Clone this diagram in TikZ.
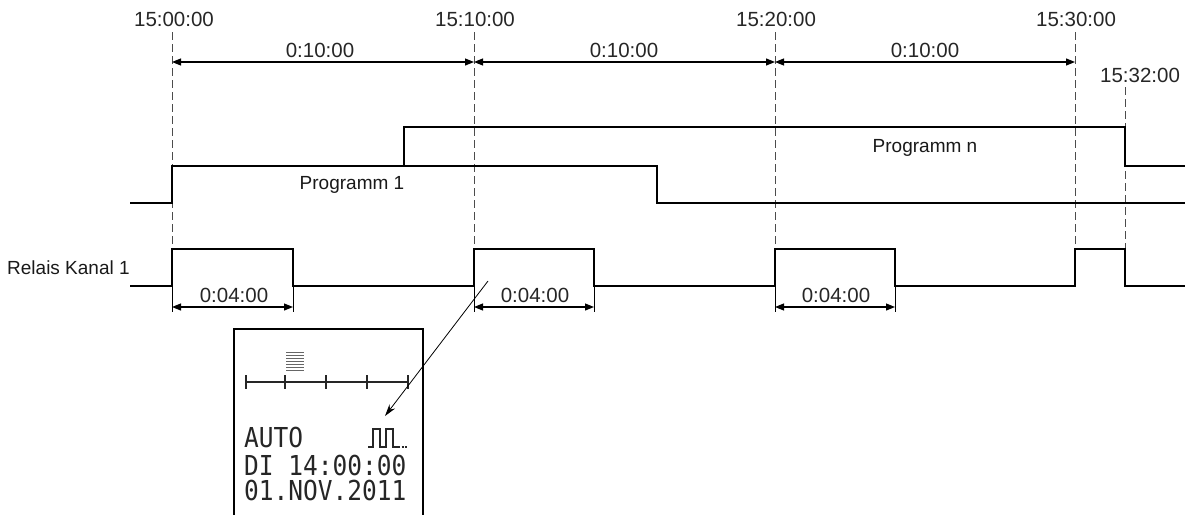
\documentclass[tikz,border=0pt]{standalone}
\usepackage{fontspec}
\usepackage{graphicx}
\setmainfont{Liberation Sans}
\newfontfamily\lcdfont{DejaVu Sans Mono}
\usetikzlibrary{arrows.meta}
\begin{document}
\begin{tikzpicture}[x=1pt,y=-1pt,
  sig/.style={line width=2.9pt, line join=miter},
  dimarrow/.style={line width=1.1pt,{Triangle[length=9pt,width=7pt]}-{Triangle[length=9pt,width=7pt]}},
  extline/.style={line width=0.8pt},
  dashl/.style={line width=1pt, dash pattern=on 8pt off 4pt, draw=black!70},
  tlabel/.style={font=\fontsize{20.5}{24}\selectfont, text=black!85, inner sep=0pt, anchor=base},
  lab/.style={font=\fontsize{19}{22}\selectfont, text=black!90, inner sep=0pt, anchor=base},
  lcd/.style={font=\lcdfont\fontsize{24.5}{26}\selectfont, text=black!85, inner sep=0pt, anchor=base west}]

\useasboundingbox (0,0) rectangle (1185,514);

% time labels
\node[tlabel] (t1) at (174,27) {15:00:00};
\node[tlabel] (t2) at (475,27) {15:10:00};
\node[tlabel] (t3) at (776,27) {15:20:00};
\node[tlabel] (t4) at (1076,27) {15:30:00};
\node[tlabel] (t5) at (1140,82) {15:32:00};

% dashed time markers
\coordinate (d1t) at (172,32);  \coordinate (d1b) at (172,249);
\coordinate (d2t) at (474,32);  \coordinate (d2b) at (474,249);
\coordinate (d3t) at (775,32);  \coordinate (d3b) at (775,249);
\coordinate (d4t) at (1075,32); \coordinate (d4b) at (1075,249);
\coordinate (d5t) at (1125,87); \coordinate (d5b) at (1125,249);
\draw[dashl] (d1t) -- (d1b);
\draw[dashl] (d2t) -- (d2b);
\draw[dashl] (d3t) -- (d3b);
\draw[dashl] (d4t) -- (d4b);
\draw[dashl] (d5t) -- (d5b);

% 10 minute intervals
\coordinate (a1) at (172,62); \coordinate (a2) at (474,62);
\coordinate (a3) at (775,62); \coordinate (a4) at (1075,62);
\draw[dimarrow] (a1) -- (a2);
\draw[dimarrow] (a2) -- (a3);
\draw[dimarrow] (a3) -- (a4);
\node[tlabel] (i1) at (320,57) {0:10:00};
\node[tlabel] (i2) at (624,57) {0:10:00};
\node[tlabel] (i3) at (925,57) {0:10:00};

% program signals
\draw[sig] (130,203) -- (172,203) -- (172,166) -- (657,166) -- (657,203) -- (1185,203);
\draw[sig] (404,166) -- (404,127) -- (1125,127) -- (1125,166) -- (1185,166);
\node[lab] (pg1) at (352,189) {Programm 1};
\node[lab] (pgn) at (925,152) {Programm n};

% relay
\node[lab, anchor=base west] (rk) at (7,274) {Relais Kanal 1};
\draw[sig] (130,286) -- (172,286) -- (172,249) -- (293,249) -- (293,286)
  -- (474,286) -- (474,249) -- (594,249) -- (594,286)
  -- (775,286) -- (775,249) -- (895,249) -- (895,286)
  -- (1075,286) -- (1075,249) -- (1125,249) -- (1125,286) -- (1185,286);

% 4 minute pulses
\foreach \x [count=\i] in {172,293,474,594,775,895} {
  \coordinate (e\i t) at (\x,286);
  \coordinate (e\i b) at (\x,312);
  \draw[extline] (e\i t) -- (e\i b);
}
\coordinate (b1) at (172,307); \coordinate (b2) at (293,307);
\coordinate (b3) at (474,307); \coordinate (b4) at (594,307);
\coordinate (b5) at (775,307); \coordinate (b6) at (895,307);
\draw[dimarrow] (b1) -- (b2);
\draw[dimarrow] (b3) -- (b4);
\draw[dimarrow] (b5) -- (b6);
\node[tlabel] (w1) at (234,302) {0:04:00};
\node[tlabel] (w2) at (535,302) {0:04:00};
\node[tlabel] (w3) at (836,302) {0:04:00};

% display
\draw[line width=1.1pt] (234,520) -- (234,329) -- (423,329) -- (423,520);
\foreach \y in {352,355,...,371} \draw[black!60, line width=1pt] (286,\y) -- (304,\y);
\draw[line width=1.4pt, black!85] (246,382) -- (408,382);
\foreach \x in {246,285,326,367,408} \draw[line width=1.4pt, black!85] (\x,375) -- (\x,389);
\node[lcd] (l1) at (244,447) {\scalebox{1}[1.12]{AUTO}};
\node[lcd] (l2) at (244,475) {\scalebox{1}[1.12]{DI 14:00:00}};
\node[lcd] (l3) at (244,500) {\scalebox{1}[1.12]{01.NOV.2011}};
\draw[line width=2.2pt, black!85] (368,447) -- (373,447) -- (373,429) -- (380,429) -- (380,447)
  -- (386,447) -- (386,429) -- (393,429) -- (393,447) -- (398,447);
\draw[line width=2.2pt, black!85, dash pattern=on 2pt off 1.5pt] (398,447) -- (408,447);

% pointer to display
\coordinate (pst) at (488,281); \coordinate (pen) at (385,416);
\draw[line width=0.8pt, -{Stealth[length=12pt,width=7pt]}] (pst) -- (pen);
\end{tikzpicture}
\end{document}
